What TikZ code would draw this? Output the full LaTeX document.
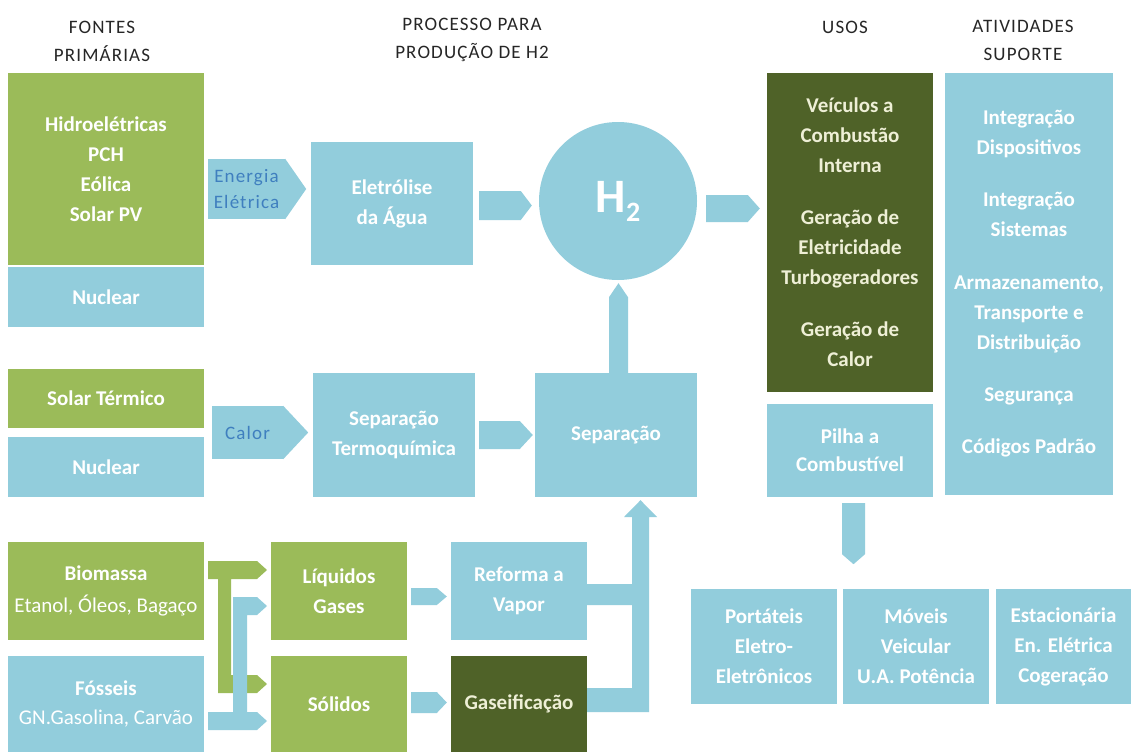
\documentclass[tikz,border=0pt]{standalone}
\usepackage{fontspec}
\setmainfont{Carlito}
\newfontfamily\hdrfont{Carlito}[LetterSpace=6]
\newfontfamily\lblfont{Carlito}[LetterSpace=6]
\usetikzlibrary{calc}
\definecolor{gc}{HTML}{9BBB59}
\definecolor{bc}{HTML}{92CDDC}
\definecolor{dg}{HTML}{4F6228}
\definecolor{cream}{HTML}{EEEFD6}
\definecolor{tb}{HTML}{3F7FBF}
\definecolor{hd}{HTML}{262626}
\newcommand\hblock[5]{\fill[#1] ($(#2)+(0,-#4)$) -- ($(#3)+(-#5,-#4)$) -- (#3) -- ($(#3)+(-#5,#4)$) -- ($(#2)+(0,#4)$) -- cycle;}
\newcommand\upblock[5]{\fill[#1] ($(#2)+(-#4,0)$) -- ($(#3)+(-#4,#5)$) -- (#3) -- ($(#3)+(#4,#5)$) -- ($(#2)+(#4,0)$) -- cycle;}
\newcommand\downblock[5]{\fill[#1] ($(#2)+(-#4,0)$) -- ($(#3)+(-#4,-#5)$) -- (#3) -- ($(#3)+(#4,-#5)$) -- ($(#2)+(#4,0)$) -- cycle;}
\tikzset{
 boxbase/.style={rectangle, inner sep=0pt, align=center, font=\bfseries\fontsize{21}{30}\selectfont, text=white},
 gbox/.style={boxbase, fill=gc},
 bbox/.style={boxbase, fill=bc},
 dbox/.style={boxbase, fill=dg, text=cream},
 hdr/.style={align=center, font=\hdrfont\fontsize{19}{28}\selectfont, text=hd},
 lbl/.style={rectangle, fill=bc, inner sep=0pt, align=center, text=tb, font=\lblfont\fontsize{19}{26}\selectfont},
}
\begin{document}
\begin{tikzpicture}[x=1pt,y=-1pt]
\useasboundingbox[fill=white] (0,0) rectangle (1132,752);
% headers
\node[hdr] (hf) at (102,41) {FONTES\\PRIMÁRIAS};
\node[hdr] (hp) at (472,40) {PROCESSO PARA\\PRODUÇÃO DE H2};
\node[hdr] (hu) at (845,27) {USOS};
\node[hdr] (ha) at (1023,40) {ATIVIDADES\\SUPORTE};
% row 1
\node[gbox, minimum width=196pt, minimum height=192pt] (hidro) at (106,169) {Hidroelétricas\\PCH\\Eólica\\Solar PV};
\node[bbox, minimum width=196pt, minimum height=60pt] (nuc1) at (106,297) {Nuclear};
\node[lbl, minimum width=77pt, minimum height=60pt] (energia) at (246.5,189) {Energia\\Elétrica};
\fill[bc] (energia.north east) -- ($(energia.east)+(21,0)$) -- (energia.south east) -- cycle;
\node[bbox, minimum width=162pt, minimum height=123pt] (elet) at (392,203.5) {Eletrólise\\da Água};
\node[circle, fill=bc, minimum size=158pt, inner sep=0pt, text=white, font=\bfseries\fontsize{48}{48}\selectfont] (h2) at (618,201) {H\raisebox{-9pt}{\fontsize{28}{28}\selectfont 2}};
\node[dbox, minimum width=166pt, minimum height=319pt] (veic) at (850,232.5) {Veículos a\\Combustão\\Interna\\[22pt]Geração de\\Eletricidade\\Turbogeradores\\[22pt]Geração de\\Calor};
\node[bbox, minimum width=166pt, minimum height=93pt] (pilha) at (850,450.5) {Pilha a\\[-2pt]Combustível};
\node[bbox, minimum width=168pt, minimum height=422pt] (ativ) at (1029,284) {Integração\\Dispositivos\\[22pt]Integração\\Sistemas\\[23pt]Armazenamento,\\Transporte e\\Distribuição\\[22pt]Segurança\\[22pt]Códigos Padrão};
% row 2
\node[gbox, minimum width=196pt, minimum height=59pt] (solter) at (106,398.5) {Solar Térmico};
\node[bbox, minimum width=196pt, minimum height=60pt] (nuc2) at (106,467) {Nuclear};
\node[lbl, minimum width=71pt, minimum height=53pt] (calor) at (247.5,432.5) {Calor};
\fill[bc] (calor.north east) -- ($(calor.east)+(25,0)$) -- (calor.south east) -- cycle;
\node[bbox, minimum width=162pt, minimum height=124pt] (termo) at (394,435) {Separação\\Termoquímica};
\node[bbox, minimum width=162pt, minimum height=124pt] (sep) at (616,435) {Separação};
% row 3
\node[gbox, minimum width=196pt, minimum height=98pt] (bio) at (106,591) {Biomassa\\[2pt]{\mdseries Etanol, Óleos, Bagaço}};
\node[bbox, minimum width=196pt, minimum height=96pt] (fos) at (106,704) {Fósseis\\[-1pt]{\mdseries GN.Gasolina, Carvão}};
\node[gbox, minimum width=136pt, minimum height=98pt] (liq) at (339,591) {Líquidos\\Gases};
\node[gbox, minimum width=136pt, minimum height=96pt] (sol) at (339,704) {Sólidos};
\node[bbox, minimum width=136pt, minimum height=98pt] (ref) at (519,591) {Reforma a\\Vapor};
\node[dbox, minimum width=136pt, minimum height=96pt] (gas) at (519,704) {Gaseificação};
% bottom right
\node[bbox, minimum width=146pt, minimum height=115pt] (port) at (764,646.5) {Portáteis\\Eletro-\\Eletrônicos};
\node[bbox, minimum width=146pt, minimum height=115pt] (mov) at (916,646.5) {Móveis\\Veicular\\U.A. Potência};
\node[bbox, minimum width=135pt, minimum height=115pt] (est) at (1063.5,646.5) {Estacionária\\En. Elétrica\\Cogeração};
% block arrows
\coordinate (a1) at ($(elet.east)+(6,2)$);
\coordinate (a2) at ($(h2.west |- a1)+(-7,0)$);
\hblock{bc}{a1}{a2}{14.5}{11}
\coordinate (b1) at ($(h2.east)+(9,7.5)$);
\coordinate (b2) at ($(veic.west |- b1)+(-7,0)$);
\hblock{bc}{b1}{b2}{13.5}{12}
\coordinate (c1) at ($(termo.east)+(4,0)$);
\coordinate (c2) at ($(sep.west)+(-2,0)$);
\hblock{bc}{c1}{c2}{14}{13}
\coordinate (d1) at ($(sep.north)+(2.5,0)$);
\coordinate (d2) at ($(h2.south)+(0.5,3)$);
\upblock{bc}{d1}{d2}{9.5}{14}
\coordinate (f1) at ($(liq.east)+(4,5.5)$);
\coordinate (f2) at ($(ref.west |- f1)+(-4,0)$);
\hblock{bc}{f1}{f2}{8.5}{10}
\coordinate (g1) at ($(sol.east)+(4,-1.5)$);
\coordinate (g2) at ($(gas.west |- g1)+(-4,0)$);
\hblock{bc}{g1}{g2}{10.5}{10}
\coordinate (p1) at ($(pilha.south)+(3.5,6)$);
\coordinate (p2) at ($(pilha.south)+(3.5,67)$);
\downblock{bc}{p1}{p2}{11.5}{10}
% merge into Separacao
\fill[bc] ($(ref.east)+(0,-7)$) -- (632,584) -- (632,517) -- (624,517) -- ($(sep.south)+(24.5,3)$) -- (657,517) -- (649,517) -- (649,712) -- ($(gas.east)+(0,8)$) -- ($(gas.east)+(0,-16)$) -- (632,688) -- (632,605) -- ($(ref.east)+(0,14)$) -- cycle;
% split connectors from Biomassa and Fosseis
\fill[gc] ($(bio.east)+(4,-30)$) -- (257,561) -- (267,570) -- (257,579) -- (231,579) -- (231,675) -- (257,675) -- (267,684) -- (257,693) -- (218,693) -- (218,579) -- ($(bio.east)+(4,-12)$) -- cycle;
\fill[bc] (233,597) -- (257,597) -- (267,606) -- (257,615) -- (247,615) -- (247,712) -- (257,712) -- (267,721) -- (257,730) -- ($(fos.east)+(4,26)$) -- ($(fos.east)+(4,8)$) -- (233,712) -- cycle;
\end{tikzpicture}
\end{document}
